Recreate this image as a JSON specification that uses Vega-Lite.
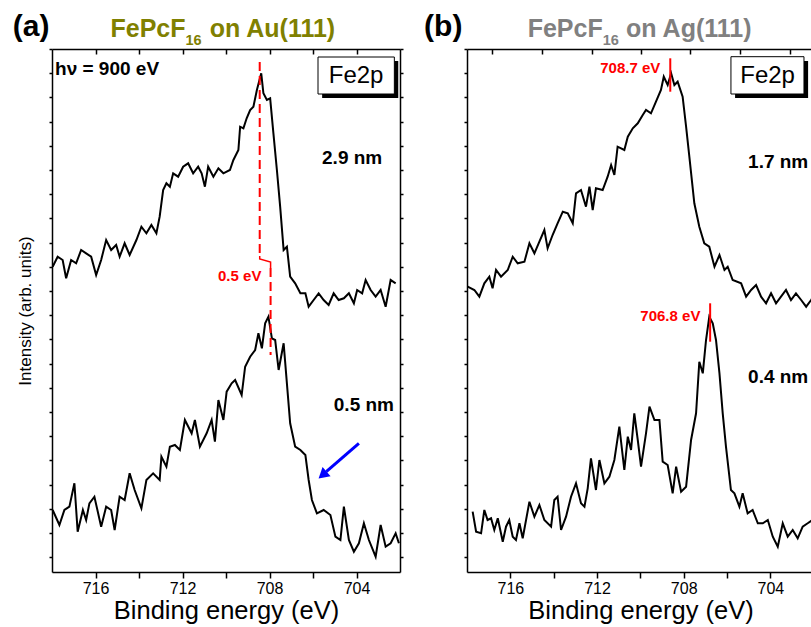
{
  "$schema": "https://vega.github.io/schema/vega-lite/v6.json",
  "padding": {"left": 12, "top": 12, "right": 0, "bottom": 0},
  "spacing": 67,
  "bounds": "flush",
  "config": {
    "font": "Liberation Sans",
    "view": {"stroke": null},
    "axis": {
      "grid": false, "domainColor": "black", "domainWidth": 1.5, "tickColor": "black", "tickWidth": 1.5,
      "labelFont": "Liberation Sans", "labelFontSize": 16, "labelColor": "black", "labelPadding": 2,
      "titleFont": "Liberation Sans", "titleFontWeight": "normal", "titleColor": "black"
    }
  },
  "datasets": {
    "au": [
      {"e":717.97,"i":305.3,"c":"a"},{"e":717.74,"i":315.3,"c":"a"},{"e":717.51,"i":312,"c":"a"},{"e":717.35,"i":293.7,"c":"a"},{"e":717.12,"i":312,"c":"a"},{"e":716.89,"i":308.7,"c":"a"},{"e":716.66,"i":322,"c":"a"},{"e":716.43,"i":318.7,"c":"a"},{"e":716.2,"i":315.3,"c":"a"},{"e":715.97,"i":297,"c":"a"},{"e":715.74,"i":312,"c":"a"},{"e":715.51,"i":332,"c":"a"},{"e":715.28,"i":322,"c":"a"},{"e":715.05,"i":327,"c":"a"},{"e":714.89,"i":315.3,"c":"a"},{"e":714.66,"i":328.7,"c":"a"},{"e":714.43,"i":317,"c":"a"},{"e":714.12,"i":332,"c":"a"},{"e":713.89,"i":345.3,"c":"a"},{"e":713.66,"i":338.7,"c":"a"},{"e":713.43,"i":347,"c":"a"},{"e":713.2,"i":338.7,"c":"a"},{"e":713.05,"i":355.3,"c":"a"},{"e":712.89,"i":382,"c":"a"},{"e":712.74,"i":388.7,"c":"a"},{"e":712.58,"i":385.3,"c":"a"},{"e":712.43,"i":398.7,"c":"a"},{"e":712.2,"i":395.3,"c":"a"},{"e":711.97,"i":405.3,"c":"a"},{"e":711.74,"i":408.7,"c":"a"},{"e":711.51,"i":398.7,"c":"a"},{"e":711.28,"i":405.3,"c":"a"},{"e":711.12,"i":398.7,"c":"a"},{"e":710.97,"i":385.3,"c":"a"},{"e":710.82,"i":405.3,"c":"a"},{"e":710.58,"i":395.3,"c":"a"},{"e":710.35,"i":403.7,"c":"a"},{"e":710.12,"i":398.7,"c":"a"},{"e":709.82,"i":402,"c":"a"},{"e":709.66,"i":412,"c":"a"},{"e":709.43,"i":422,"c":"a"},{"e":709.35,"i":445.3,"c":"a"},{"e":709.2,"i":443.7,"c":"a"},{"e":709.05,"i":453.7,"c":"a"},{"e":708.89,"i":462,"c":"a"},{"e":708.74,"i":465.3,"c":"a"},{"e":708.58,"i":482,"c":"a"},{"e":708.38,"i":498.7,"c":"a"},{"e":708.28,"i":478.7,"c":"a"},{"e":708.12,"i":472,"c":"a"},{"e":707.97,"i":473.7,"c":"a"},{"e":707.82,"i":438.7,"c":"a"},{"e":707.66,"i":402,"c":"a"},{"e":707.51,"i":365.3,"c":"a"},{"e":707.35,"i":322,"c":"a"},{"e":707.2,"i":325.3,"c":"a"},{"e":707.05,"i":295.3,"c":"a"},{"e":706.82,"i":288.7,"c":"a"},{"e":706.58,"i":278.7,"c":"a"},{"e":706.35,"i":278.7,"c":"a"},{"e":706.2,"i":265.3,"c":"a"},{"e":705.97,"i":272,"c":"a"},{"e":705.74,"i":278.7,"c":"a"},{"e":705.51,"i":272,"c":"a"},{"e":705.28,"i":267,"c":"a"},{"e":705.05,"i":278.7,"c":"a"},{"e":704.82,"i":272,"c":"a"},{"e":704.58,"i":273.7,"c":"a"},{"e":704.35,"i":278.7,"c":"a"},{"e":704.12,"i":268.7,"c":"a"},{"e":703.97,"i":282,"c":"a"},{"e":703.74,"i":278.7,"c":"a"},{"e":703.58,"i":292,"c":"a"},{"e":703.35,"i":282,"c":"a"},{"e":703.12,"i":275.3,"c":"a"},{"e":702.89,"i":282,"c":"a"},{"e":702.66,"i":265.3,"c":"a"},{"e":702.43,"i":292,"c":"a"},{"e":702.2,"i":288.7,"c":"a"},
      {"e":717.97,"i":62,"c":"b"},{"e":717.66,"i":47,"c":"b"},{"e":717.43,"i":62,"c":"b"},{"e":717.2,"i":65.3,"c":"b"},{"e":716.97,"i":88.7,"c":"b"},{"e":716.82,"i":40.3,"c":"b"},{"e":716.58,"i":62,"c":"b"},{"e":716.43,"i":52,"c":"b"},{"e":716.28,"i":68.7,"c":"b"},{"e":716.05,"i":75.3,"c":"b"},{"e":715.74,"i":45.3,"c":"b"},{"e":715.51,"i":65.3,"c":"b"},{"e":715.28,"i":62,"c":"b"},{"e":715.12,"i":42,"c":"b"},{"e":714.89,"i":75.3,"c":"b"},{"e":714.66,"i":72,"c":"b"},{"e":714.43,"i":98.7,"c":"b"},{"e":714.2,"i":82,"c":"b"},{"e":713.89,"i":63.7,"c":"b"},{"e":713.66,"i":92,"c":"b"},{"e":713.35,"i":98.7,"c":"b"},{"e":713.05,"i":92,"c":"b"},{"e":712.97,"i":115.3,"c":"b"},{"e":712.74,"i":105.3,"c":"b"},{"e":712.58,"i":125.3,"c":"b"},{"e":712.35,"i":127,"c":"b"},{"e":712.12,"i":122,"c":"b"},{"e":711.89,"i":152,"c":"b"},{"e":711.58,"i":138.7,"c":"b"},{"e":711.43,"i":152,"c":"b"},{"e":711.2,"i":125.3,"c":"b"},{"e":710.89,"i":138.7,"c":"b"},{"e":710.66,"i":152,"c":"b"},{"e":710.51,"i":130.3,"c":"b"},{"e":710.35,"i":172,"c":"b"},{"e":710.12,"i":152,"c":"b"},{"e":709.97,"i":180.3,"c":"b"},{"e":709.74,"i":188.7,"c":"b"},{"e":709.58,"i":192,"c":"b"},{"e":709.28,"i":177,"c":"b"},{"e":709.12,"i":205.3,"c":"b"},{"e":708.89,"i":215.3,"c":"b"},{"e":708.66,"i":222,"c":"b"},{"e":708.51,"i":238.7,"c":"b"},{"e":708.35,"i":223.7,"c":"b"},{"e":708.2,"i":248.7,"c":"b"},{"e":708.05,"i":255.3,"c":"b"},{"e":707.89,"i":233.7,"c":"b"},{"e":707.74,"i":232,"c":"b"},{"e":707.58,"i":202,"c":"b"},{"e":707.35,"i":228.7,"c":"b"},{"e":707.05,"i":148.7,"c":"b"},{"e":706.82,"i":125.3,"c":"b"},{"e":706.58,"i":122,"c":"b"},{"e":706.35,"i":117,"c":"b"},{"e":706.2,"i":92,"c":"b"},{"e":706.05,"i":72,"c":"b"},{"e":705.82,"i":58.7,"c":"b"},{"e":705.51,"i":62,"c":"b"},{"e":705.2,"i":57,"c":"b"},{"e":704.97,"i":35.3,"c":"b"},{"e":704.74,"i":32,"c":"b"},{"e":704.58,"i":65.3,"c":"b"},{"e":704.35,"i":32,"c":"b"},{"e":704.12,"i":20.3,"c":"b"},{"e":703.89,"i":28.7,"c":"b"},{"e":703.66,"i":48.7,"c":"b"},{"e":703.43,"i":32,"c":"b"},{"e":703.12,"i":15.3,"c":"b"},{"e":702.89,"i":47,"c":"b"},{"e":702.66,"i":25.3,"c":"b"},{"e":702.43,"i":28.7,"c":"b"},{"e":702.2,"i":38.7,"c":"b"},{"e":702.05,"i":28.7,"c":"b"}
    ],
    "ag": [
      {"e":717.97,"i":285.3,"c":"a"},{"e":717.66,"i":282,"c":"a"},{"e":717.43,"i":275.3,"c":"a"},{"e":717.2,"i":288.7,"c":"a"},{"e":716.97,"i":295.3,"c":"a"},{"e":716.82,"i":283.7,"c":"a"},{"e":716.66,"i":302,"c":"a"},{"e":716.43,"i":295.3,"c":"a"},{"e":716.12,"i":302,"c":"a"},{"e":715.89,"i":315.3,"c":"a"},{"e":715.66,"i":308.7,"c":"a"},{"e":715.35,"i":310.3,"c":"a"},{"e":715.12,"i":328.7,"c":"a"},{"e":714.89,"i":318.7,"c":"a"},{"e":714.66,"i":330.3,"c":"a"},{"e":714.43,"i":342,"c":"a"},{"e":714.28,"i":323.7,"c":"a"},{"e":714.05,"i":337,"c":"a"},{"e":713.82,"i":348.7,"c":"a"},{"e":713.58,"i":360.3,"c":"a"},{"e":713.35,"i":358.7,"c":"a"},{"e":713.12,"i":348.7,"c":"a"},{"e":712.97,"i":378.7,"c":"a"},{"e":712.74,"i":382,"c":"a"},{"e":712.51,"i":365.3,"c":"a"},{"e":712.35,"i":385.3,"c":"a"},{"e":712.2,"i":362,"c":"a"},{"e":712.05,"i":383.7,"c":"a"},{"e":711.74,"i":382,"c":"a"},{"e":711.51,"i":395.3,"c":"a"},{"e":711.35,"i":407,"c":"a"},{"e":711.2,"i":397,"c":"a"},{"e":711.05,"i":425.3,"c":"a"},{"e":710.74,"i":422,"c":"a"},{"e":710.58,"i":435.3,"c":"a"},{"e":710.35,"i":443.7,"c":"a"},{"e":710.12,"i":448.7,"c":"a"},{"e":709.89,"i":457,"c":"a"},{"e":709.74,"i":462,"c":"a"},{"e":709.51,"i":458.7,"c":"a"},{"e":709.28,"i":470.3,"c":"a"},{"e":709.05,"i":482,"c":"a"},{"e":708.92,"i":495.3,"c":"a"},{"e":708.74,"i":487,"c":"a"},{"e":708.58,"i":498.7,"c":"a"},{"e":708.43,"i":487,"c":"a"},{"e":708.28,"i":490.3,"c":"a"},{"e":708.05,"i":475.3,"c":"a"},{"e":707.89,"i":445.3,"c":"a"},{"e":707.74,"i":415.3,"c":"a"},{"e":707.51,"i":368.7,"c":"a"},{"e":707.28,"i":345.3,"c":"a"},{"e":707.05,"i":328.7,"c":"a"},{"e":706.82,"i":325.3,"c":"a"},{"e":706.58,"i":305.3,"c":"a"},{"e":706.35,"i":317,"c":"a"},{"e":706.12,"i":302,"c":"a"},{"e":705.97,"i":305.3,"c":"a"},{"e":705.74,"i":292,"c":"a"},{"e":705.35,"i":288.7,"c":"a"},{"e":705.12,"i":275.3,"c":"a"},{"e":704.89,"i":282,"c":"a"},{"e":704.66,"i":287,"c":"a"},{"e":704.43,"i":275.3,"c":"a"},{"e":704.2,"i":268.7,"c":"a"},{"e":703.97,"i":278.7,"c":"a"},{"e":703.74,"i":268.7,"c":"a"},{"e":703.51,"i":275.3,"c":"a"},{"e":703.28,"i":282,"c":"a"},{"e":703.05,"i":272,"c":"a"},{"e":702.82,"i":278.7,"c":"a"},{"e":702.58,"i":272,"c":"a"},{"e":702.35,"i":265.3,"c":"a"},{"e":702.12,"i":272,"c":"a"},{"e":701.9,"i":280,"c":"a"},
      {"e":717.74,"i":60.3,"c":"b"},{"e":717.58,"i":40.3,"c":"b"},{"e":717.35,"i":38.7,"c":"b"},{"e":717.2,"i":62,"c":"b"},{"e":717.05,"i":52,"c":"b"},{"e":716.89,"i":53.7,"c":"b"},{"e":716.74,"i":42,"c":"b"},{"e":716.58,"i":53.7,"c":"b"},{"e":716.35,"i":30.3,"c":"b"},{"e":716.2,"i":45.3,"c":"b"},{"e":716.05,"i":52,"c":"b"},{"e":715.89,"i":35.3,"c":"b"},{"e":715.74,"i":32,"c":"b"},{"e":715.58,"i":48.7,"c":"b"},{"e":715.43,"i":33.7,"c":"b"},{"e":715.12,"i":70.3,"c":"b"},{"e":714.89,"i":55.3,"c":"b"},{"e":714.66,"i":67,"c":"b"},{"e":714.43,"i":52,"c":"b"},{"e":714.12,"i":45.3,"c":"b"},{"e":713.97,"i":72,"c":"b"},{"e":713.82,"i":75.3,"c":"b"},{"e":713.66,"i":42,"c":"b"},{"e":713.43,"i":55.3,"c":"b"},{"e":713.2,"i":75.3,"c":"b"},{"e":712.97,"i":88.7,"c":"b"},{"e":712.74,"i":68.7,"c":"b"},{"e":712.58,"i":65.3,"c":"b"},{"e":712.43,"i":83.7,"c":"b"},{"e":712.28,"i":113.7,"c":"b"},{"e":712.05,"i":82,"c":"b"},{"e":711.89,"i":112,"c":"b"},{"e":711.66,"i":88.7,"c":"b"},{"e":711.43,"i":95.3,"c":"b"},{"e":711.2,"i":112,"c":"b"},{"e":710.97,"i":145.3,"c":"b"},{"e":710.74,"i":102,"c":"b"},{"e":710.58,"i":135.3,"c":"b"},{"e":710.43,"i":122,"c":"b"},{"e":710.28,"i":158.7,"c":"b"},{"e":710.12,"i":132,"c":"b"},{"e":709.97,"i":105.3,"c":"b"},{"e":709.74,"i":138.7,"c":"b"},{"e":709.58,"i":165.3,"c":"b"},{"e":709.35,"i":152,"c":"b"},{"e":709.12,"i":152,"c":"b"},{"e":708.97,"i":110.3,"c":"b"},{"e":708.74,"i":107,"c":"b"},{"e":708.51,"i":78.7,"c":"b"},{"e":708.35,"i":105.3,"c":"b"},{"e":708.12,"i":80.3,"c":"b"},{"e":707.89,"i":85.3,"c":"b"},{"e":707.66,"i":132,"c":"b"},{"e":707.43,"i":158.7,"c":"b"},{"e":707.28,"i":210.3,"c":"b"},{"e":707.12,"i":198.7,"c":"b"},{"e":706.97,"i":232,"c":"b"},{"e":706.82,"i":255.3,"c":"b"},{"e":706.66,"i":248.7,"c":"b"},{"e":706.51,"i":232,"c":"b"},{"e":706.35,"i":198.7,"c":"b"},{"e":706.2,"i":158.7,"c":"b"},{"e":706.05,"i":125.3,"c":"b"},{"e":705.82,"i":82,"c":"b"},{"e":705.66,"i":78.7,"c":"b"},{"e":705.43,"i":65.3,"c":"b"},{"e":705.28,"i":78.7,"c":"b"},{"e":705.05,"i":58.7,"c":"b"},{"e":704.82,"i":62,"c":"b"},{"e":704.58,"i":48.7,"c":"b"},{"e":704.35,"i":48.7,"c":"b"},{"e":704.12,"i":52,"c":"b"},{"e":703.89,"i":35.3,"c":"b"},{"e":703.66,"i":25.3,"c":"b"},{"e":703.43,"i":48.7,"c":"b"},{"e":703.2,"i":35.3,"c":"b"},{"e":702.97,"i":42,"c":"b"},{"e":702.74,"i":33.7,"c":"b"},{"e":702.51,"i":45.3,"c":"b"},{"e":702.28,"i":48.7,"c":"b"},{"e":702.05,"i":52.3,"c":"b"},{"e":701.9,"i":56,"c":"b"}
    ]
  },
  "hconcat": [
    {
      "width": 348, "height": 523,
      "resolve": {"axis": {"x": "independent", "y": "independent"}},
      "layer": [
        {
          "data": {"name": "au"},
          "mark": {"type": "line", "color": "black", "strokeWidth": 2},
          "encoding": {
            "x": {"field": "e", "type": "quantitative", "scale": {"domain": [702, 718], "reverse": true, "nice": false, "zero": false},
              "axis": {"orient": "bottom", "values": [716, 714, 712, 710, 708, 706, 704], "labelExpr": "datum.value % 4 == 0 ? datum.label : ''", "tickSize": 6, "title": "Binding energy (eV)", "titleFontSize": 25.5, "titlePadding": 2}},
            "y": {"field": "i", "type": "quantitative", "scale": {"domain": [0, 523], "nice": false, "zero": false},
              "axis": {"orient": "left", "values": [14.8, 39, 63.2, 87.4, 111.6, 135.8, 160, 184.2, 208.4, 232.6, 256.8, 281, 305.2, 329.4, 353.6, 377.8, 402, 426.2, 450.4, 474.6, 498.8, 523], "labels": false, "tickSize": 3, "title": "Intensity (arb. units)", "titleFontSize": 17, "titlePadding": 14}},
            "detail": {"field": "c"}
          }
        },
        {
          "data": {"values": [{"e": 708.45, "i": 510, "i2": 316}, {"e": 707.95, "i": 304, "i2": 217}]},
          "mark": {"type": "rule", "color": "#ff0000", "strokeWidth": 2, "strokeDash": [9, 5]},
          "encoding": {
            "x": {"field": "e", "type": "quantitative", "scale": {"domain": [702, 718], "reverse": true, "nice": false, "zero": false},
              "axis": {"orient": "top", "values": [716, 714, 712, 710, 708, 706, 704], "labels": false, "tickSize": -5, "title": null}},
            "y": {"field": "i", "type": "quantitative", "scale": {"domain": [0, 523], "nice": false, "zero": false},
              "axis": {"orient": "right", "values": [14.8, 39, 63.2, 87.4, 111.6, 135.8, 160, 184.2, 208.4, 232.6, 256.8, 281, 305.2, 329.4, 353.6, 377.8, 402, 426.2, 450.4, 474.6, 498.8, 523], "labels": false, "tickSize": 3, "title": null}},
            "y2": {"field": "i2"}
          }
        },
        {
          "data": {"values": [{"e": 708.45, "i": 316, "o": 1}, {"e": 708.45, "i": 313, "o": 2}, {"e": 707.95, "i": 310, "o": 3}, {"e": 707.95, "i": 304, "o": 4}]},
          "mark": {"type": "line", "color": "#ff0000", "strokeWidth": 1.5},
          "encoding": {
            "x": {"field": "e", "type": "quantitative", "scale": {"domain": [702, 718], "reverse": true, "nice": false, "zero": false}, "axis": null},
            "y": {"field": "i", "type": "quantitative", "scale": {"domain": [0, 523], "nice": false, "zero": false}, "axis": null},
            "order": {"field": "o"}
          }
        },
        {
          "data": {"values": [{"e": 709.37, "i": 296, "t": "0.5 eV"}]},
          "mark": {"type": "text", "color": "#ff0000", "fontWeight": "bold", "fontSize": 15, "align": "center", "baseline": "middle"},
          "encoding": {
            "x": {"field": "e", "type": "quantitative", "scale": {"domain": [702, 718], "reverse": true, "nice": false, "zero": false}, "axis": null},
            "y": {"field": "i", "type": "quantitative", "scale": {"domain": [0, 523], "nice": false, "zero": false}, "axis": null},
            "text": {"field": "t"}
          }
        },
        {
          "data": {"values": [{"e": 717.86, "i": 503, "t": "hν = 900 eV"}]},
          "mark": {"type": "text", "color": "black", "fontWeight": "bold", "fontSize": 19, "align": "left", "baseline": "middle"},
          "encoding": {
            "x": {"field": "e", "type": "quantitative", "scale": {"domain": [702, 718], "reverse": true, "nice": false, "zero": false}, "axis": null},
            "y": {"field": "i", "type": "quantitative", "scale": {"domain": [0, 523], "nice": false, "zero": false}, "axis": null},
            "text": {"field": "t"}
          }
        },
        {
          "data": {"values": [{"e": 704.2, "i": 414, "t": "2.9 nm"}, {"e": 703.66, "i": 167, "t": "0.5 nm"}]},
          "mark": {"type": "text", "color": "black", "fontWeight": "bold", "fontSize": 19, "align": "center", "baseline": "middle"},
          "encoding": {
            "x": {"field": "e", "type": "quantitative", "scale": {"domain": [702, 718], "reverse": true, "nice": false, "zero": false}, "axis": null},
            "y": {"field": "i", "type": "quantitative", "scale": {"domain": [0, 523], "nice": false, "zero": false}, "axis": null},
            "text": {"field": "t"}
          }
        },
        {
          "data": {"values": [{"e": 705.58, "e2": 702.08, "i": 474, "i2": 511}]},
          "mark": {"type": "rect", "color": "black"},
          "encoding": {
            "x": {"field": "e", "type": "quantitative", "scale": {"domain": [702, 718], "reverse": true, "nice": false, "zero": false}, "axis": null},
            "x2": {"field": "e2"},
            "y": {"field": "i", "type": "quantitative", "scale": {"domain": [0, 523], "nice": false, "zero": false}, "axis": null},
            "y2": {"field": "i2"}
          }
        },
        {
          "data": {"values": [{"e": 705.77, "e2": 702.26, "i": 478, "i2": 515}]},
          "mark": {"type": "rect", "fill": "white", "stroke": "black", "strokeWidth": 1},
          "encoding": {
            "x": {"field": "e", "type": "quantitative", "scale": {"domain": [702, 718], "reverse": true, "nice": false, "zero": false}, "axis": null},
            "x2": {"field": "e2"},
            "y": {"field": "i", "type": "quantitative", "scale": {"domain": [0, 523], "nice": false, "zero": false}, "axis": null},
            "y2": {"field": "i2"}
          }
        },
        {
          "data": {"values": [{"e": 704.02, "i": 496, "t": "Fe2p"}]},
          "mark": {"type": "text", "color": "black", "fontSize": 24, "align": "center", "baseline": "middle"},
          "encoding": {
            "x": {"field": "e", "type": "quantitative", "scale": {"domain": [702, 718], "reverse": true, "nice": false, "zero": false}, "axis": null},
            "y": {"field": "i", "type": "quantitative", "scale": {"domain": [0, 523], "nice": false, "zero": false}, "axis": null},
            "text": {"field": "t"}
          }
        },
        {
          "data": {"values": [{"e": 703.89, "i": 128.7, "e2": 705.39, "i2": 100.3}]},
          "mark": {"type": "rule", "color": "#0000ff", "strokeWidth": 3},
          "encoding": {
            "x": {"field": "e", "type": "quantitative", "scale": {"domain": [702, 718], "reverse": true, "nice": false, "zero": false}, "axis": null},
            "x2": {"field": "e2"},
            "y": {"field": "i", "type": "quantitative", "scale": {"domain": [0, 523], "nice": false, "zero": false}, "axis": null},
            "y2": {"field": "i2"}
          }
        },
        {
          "data": {"values": [{"e": 705.56, "i": 97}]},
          "mark": {"type": "point", "shape": "triangle-up", "filled": true, "color": "#0000ff", "size": 150, "angle": 229, "opacity": 1},
          "encoding": {
            "x": {"field": "e", "type": "quantitative", "scale": {"domain": [702, 718], "reverse": true, "nice": false, "zero": false}, "axis": null},
            "y": {"field": "i", "type": "quantitative", "scale": {"domain": [0, 523], "nice": false, "zero": false}, "axis": null}
          }
        },
        {
          "data": {"values": [{"e": 719.8, "i": 536, "t": "(a)"}]},
          "mark": {"type": "text", "color": "black", "fontWeight": "bold", "fontSize": 30, "align": "left", "baseline": "alphabetic"},
          "encoding": {
            "x": {"field": "e", "type": "quantitative", "scale": {"domain": [702, 718], "reverse": true, "nice": false, "zero": false}, "axis": null},
            "y": {"field": "i", "type": "quantitative", "scale": {"domain": [0, 523], "nice": false, "zero": false}, "axis": null},
            "text": {"field": "t"}
          }
        },
        {
          "data": {"values": [{"e": 711.86, "i": 535, "t": "FePcF"}]},
          "mark": {"type": "text", "color": "#808000", "fontWeight": "bold", "fontSize": 25, "align": "right", "baseline": "alphabetic"},
          "encoding": {
            "x": {"field": "e", "type": "quantitative", "scale": {"domain": [702, 718], "reverse": true, "nice": false, "zero": false}, "axis": null},
            "y": {"field": "i", "type": "quantitative", "scale": {"domain": [0, 523], "nice": false, "zero": false}, "axis": null},
            "text": {"field": "t"}
          }
        },
        {
          "data": {"values": [{"e": 711.86, "i": 527, "t": "16"}]},
          "mark": {"type": "text", "color": "#808000", "fontWeight": "bold", "fontSize": 14.5, "align": "left", "baseline": "alphabetic"},
          "encoding": {
            "x": {"field": "e", "type": "quantitative", "scale": {"domain": [702, 718], "reverse": true, "nice": false, "zero": false}, "axis": null},
            "y": {"field": "i", "type": "quantitative", "scale": {"domain": [0, 523], "nice": false, "zero": false}, "axis": null},
            "text": {"field": "t"}
          }
        },
        {
          "data": {"values": [{"e": 710.75, "i": 535, "t": "on Au(111)"}]},
          "mark": {"type": "text", "color": "#808000", "fontWeight": "bold", "fontSize": 25, "align": "left", "baseline": "alphabetic"},
          "encoding": {
            "x": {"field": "e", "type": "quantitative", "scale": {"domain": [702, 718], "reverse": true, "nice": false, "zero": false}, "axis": null},
            "y": {"field": "i", "type": "quantitative", "scale": {"domain": [0, 523], "nice": false, "zero": false}, "axis": null},
            "text": {"field": "t"}
          }
        }
      ]
    },
    {
      "width": 345, "height": 523,
      "resolve": {"axis": {"x": "independent", "y": "independent"}},
      "layer": [
        {
          "data": {"name": "ag"},
          "mark": {"type": "line", "color": "black", "strokeWidth": 2, "clip": true},
          "encoding": {
            "x": {"field": "e", "type": "quantitative", "scale": {"domain": [702.08, 718], "reverse": true, "nice": false, "zero": false},
              "axis": {"orient": "bottom", "values": [716, 714, 712, 710, 708, 706, 704], "labelExpr": "datum.value % 4 == 0 ? datum.label : ''", "tickSize": 6, "title": "Binding energy (eV)", "titleFontSize": 25.5, "titlePadding": 2, "titleX": 173.5}},
            "y": {"field": "i", "type": "quantitative", "scale": {"domain": [0, 523], "nice": false, "zero": false},
              "axis": {"orient": "left", "values": [14.8, 39, 63.2, 87.4, 111.6, 135.8, 160, 184.2, 208.4, 232.6, 256.8, 281, 305.2, 329.4, 353.6, 377.8, 402, 426.2, 450.4, 474.6, 498.8, 523], "labels": false, "tickSize": 3, "title": null}},
            "detail": {"field": "c"}
          }
        },
        {
          "data": {"values": [{"e": 708.62, "i": 513.7, "i2": 480.3}, {"e": 706.78, "i": 268.7, "i2": 230.3}]},
          "mark": {"type": "rule", "color": "#ff0000", "strokeWidth": 2},
          "encoding": {
            "x": {"field": "e", "type": "quantitative", "scale": {"domain": [702.08, 718], "reverse": true, "nice": false, "zero": false},
              "axis": {"orient": "top", "values": [716.85, 714.54, 712.23, 709.97, 707.71, 705.4, 703.09], "labels": false, "tickSize": -5, "title": null}},
            "y": {"field": "i", "type": "quantitative", "scale": {"domain": [0, 523], "nice": false, "zero": false}, "axis": null},
            "y2": {"field": "i2"}
          }
        },
        {
          "data": {"values": [{"e": 709.08, "i": 503.7, "t": "708.7 eV"}, {"e": 707.23, "i": 256, "t": "706.8 eV"}]},
          "mark": {"type": "text", "color": "#ff0000", "fontWeight": "bold", "fontSize": 15, "align": "right", "baseline": "middle"},
          "encoding": {
            "x": {"field": "e", "type": "quantitative", "scale": {"domain": [702.08, 718], "reverse": true, "nice": false, "zero": false}, "axis": null},
            "y": {"field": "i", "type": "quantitative", "scale": {"domain": [0, 523], "nice": false, "zero": false}, "axis": null},
            "text": {"field": "t"}
          }
        },
        {
          "data": {"values": [{"e": 705.03, "i": 410, "t": "1.7 nm"}, {"e": 705.03, "i": 195, "t": "0.4 nm"}]},
          "mark": {"type": "text", "color": "black", "fontWeight": "bold", "fontSize": 19, "align": "left", "baseline": "middle", "clip": true},
          "encoding": {
            "x": {"field": "e", "type": "quantitative", "scale": {"domain": [702.08, 718], "reverse": true, "nice": false, "zero": false}, "axis": null},
            "y": {"field": "i", "type": "quantitative", "scale": {"domain": [0, 523], "nice": false, "zero": false}, "axis": null},
            "text": {"field": "t"}
          }
        },
        {
          "data": {"values": [{"e": 705.63, "e2": 702.26, "i": 474, "i2": 511}]},
          "mark": {"type": "rect", "color": "black"},
          "encoding": {
            "x": {"field": "e", "type": "quantitative", "scale": {"domain": [702.08, 718], "reverse": true, "nice": false, "zero": false}, "axis": null},
            "x2": {"field": "e2"},
            "y": {"field": "i", "type": "quantitative", "scale": {"domain": [0, 523], "nice": false, "zero": false}, "axis": null},
            "y2": {"field": "i2"}
          }
        },
        {
          "data": {"values": [{"e": 705.82, "e2": 702.45, "i": 478, "i2": 515.3}]},
          "mark": {"type": "rect", "fill": "white", "stroke": "black", "strokeWidth": 1},
          "encoding": {
            "x": {"field": "e", "type": "quantitative", "scale": {"domain": [702.08, 718], "reverse": true, "nice": false, "zero": false}, "axis": null},
            "x2": {"field": "e2"},
            "y": {"field": "i", "type": "quantitative", "scale": {"domain": [0, 523], "nice": false, "zero": false}, "axis": null},
            "y2": {"field": "i2"}
          }
        },
        {
          "data": {"values": [{"e": 704.13, "i": 496, "t": "Fe2p"}]},
          "mark": {"type": "text", "color": "black", "fontSize": 24, "align": "center", "baseline": "middle"},
          "encoding": {
            "x": {"field": "e", "type": "quantitative", "scale": {"domain": [702.08, 718], "reverse": true, "nice": false, "zero": false}, "axis": null},
            "y": {"field": "i", "type": "quantitative", "scale": {"domain": [0, 523], "nice": false, "zero": false}, "axis": null},
            "text": {"field": "t"}
          }
        },
        {
          "data": {"values": [{"e": 719.98, "i": 536, "t": "(b)"}]},
          "mark": {"type": "text", "color": "black", "fontWeight": "bold", "fontSize": 30, "align": "left", "baseline": "alphabetic"},
          "encoding": {
            "x": {"field": "e", "type": "quantitative", "scale": {"domain": [702.08, 718], "reverse": true, "nice": false, "zero": false}, "axis": null},
            "y": {"field": "i", "type": "quantitative", "scale": {"domain": [0, 523], "nice": false, "zero": false}, "axis": null},
            "text": {"field": "t"}
          }
        },
        {
          "data": {"values": [{"e": 711.74, "i": 535, "t": "FePcF"}]},
          "mark": {"type": "text", "color": "#808080", "fontWeight": "bold", "fontSize": 25, "align": "right", "baseline": "alphabetic"},
          "encoding": {
            "x": {"field": "e", "type": "quantitative", "scale": {"domain": [702.08, 718], "reverse": true, "nice": false, "zero": false}, "axis": null},
            "y": {"field": "i", "type": "quantitative", "scale": {"domain": [0, 523], "nice": false, "zero": false}, "axis": null},
            "text": {"field": "t"}
          }
        },
        {
          "data": {"values": [{"e": 711.74, "i": 527, "t": "16"}]},
          "mark": {"type": "text", "color": "#808080", "fontWeight": "bold", "fontSize": 14.5, "align": "left", "baseline": "alphabetic"},
          "encoding": {
            "x": {"field": "e", "type": "quantitative", "scale": {"domain": [702.08, 718], "reverse": true, "nice": false, "zero": false}, "axis": null},
            "y": {"field": "i", "type": "quantitative", "scale": {"domain": [0, 523], "nice": false, "zero": false}, "axis": null},
            "text": {"field": "t"}
          }
        },
        {
          "data": {"values": [{"e": 710.66, "i": 535, "t": "on Ag(111)"}]},
          "mark": {"type": "text", "color": "#808080", "fontWeight": "bold", "fontSize": 25, "align": "left", "baseline": "alphabetic"},
          "encoding": {
            "x": {"field": "e", "type": "quantitative", "scale": {"domain": [702.08, 718], "reverse": true, "nice": false, "zero": false}, "axis": null},
            "y": {"field": "i", "type": "quantitative", "scale": {"domain": [0, 523], "nice": false, "zero": false}, "axis": null},
            "text": {"field": "t"}
          }
        }
      ]
    }
  ]
}
